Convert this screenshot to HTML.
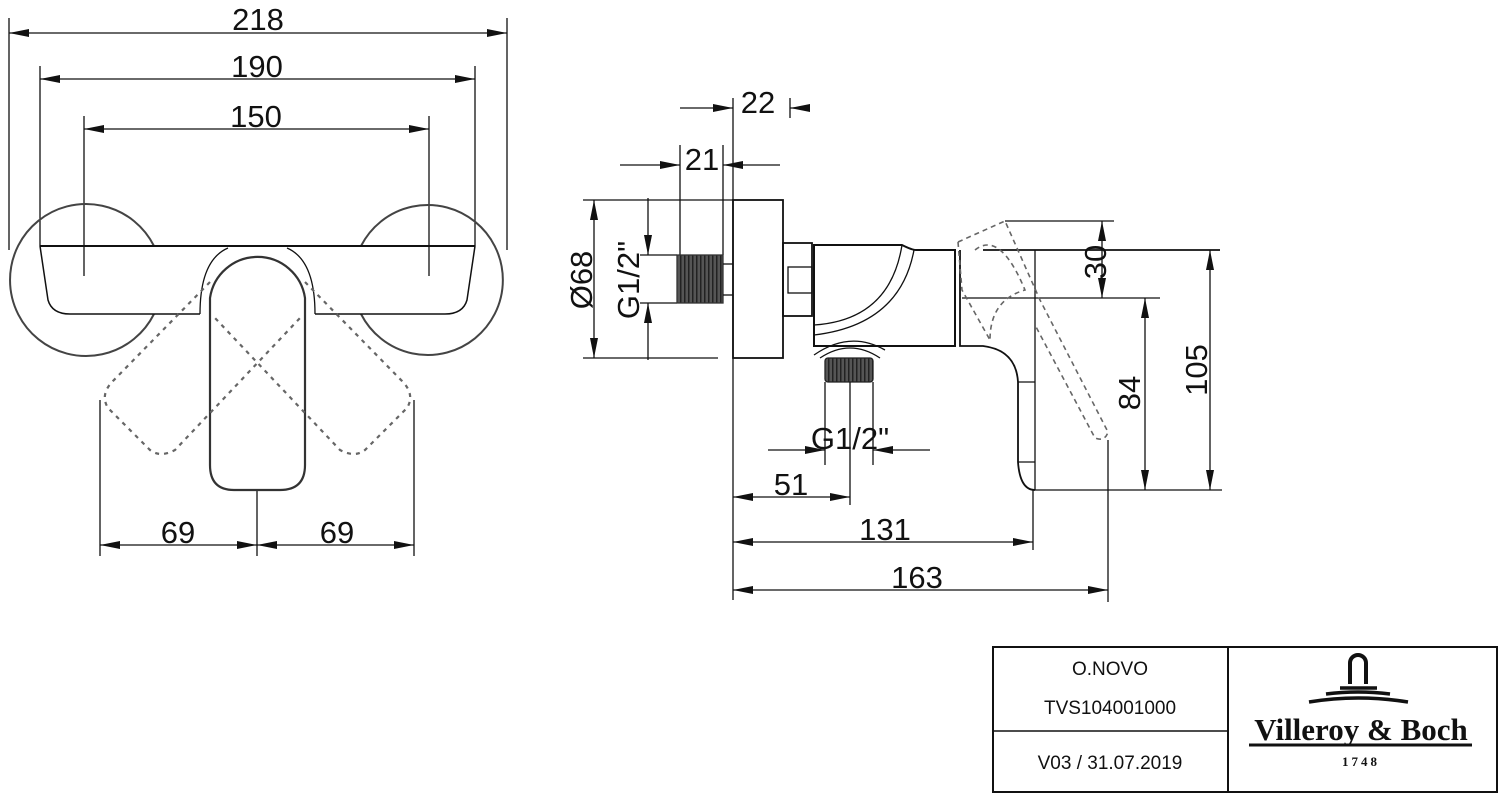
<!DOCTYPE html>
<html><head><meta charset="utf-8"><style>
body{margin:0;background:#fff}
svg{display:block}
.d{font-family:"Liberation Sans",sans-serif;font-size:31px;fill:#111}
.t{font-family:"Liberation Sans",sans-serif;font-size:19px;fill:#111}
</style></head><body>
<svg width="1500" height="799" viewBox="0 0 1500 799" xmlns="http://www.w3.org/2000/svg">
<defs>
<marker id="a" viewBox="0 0 20 8" refX="20" refY="4" markerWidth="20" markerHeight="8" orient="auto-start-reverse" markerUnits="userSpaceOnUse"><path d="M0,0 L20,4 L0,8 z" fill="#111"/></marker>
<pattern id="h" width="4" height="4" patternUnits="userSpaceOnUse"><rect width="4" height="4" fill="#555"/><rect width="1.5" height="4" fill="#222"/></pattern>
</defs>
<g stroke="#111" stroke-width="1.3" fill="none">
<line x1="9" y1="18" x2="9" y2="250"/><line x1="507" y1="18" x2="507" y2="250"/>
<line x1="9" y1="33" x2="507" y2="33" marker-start="url(#a)" marker-end="url(#a)"/>
<line x1="40" y1="66" x2="40" y2="246"/><line x1="475" y1="66" x2="475" y2="246"/>
<line x1="40" y1="79" x2="475" y2="79" marker-start="url(#a)" marker-end="url(#a)"/>
<line x1="84" y1="116" x2="84" y2="276"/><line x1="429" y1="116" x2="429" y2="276"/>
<line x1="84" y1="129" x2="429" y2="129" marker-start="url(#a)" marker-end="url(#a)"/>
<line x1="100" y1="400" x2="100" y2="556"/><line x1="257" y1="490" x2="257" y2="556"/><line x1="414" y1="400" x2="414" y2="556"/>
<line x1="100" y1="545" x2="257" y2="545" marker-start="url(#a)" marker-end="url(#a)"/>
<line x1="257" y1="545" x2="414" y2="545" marker-start="url(#a)" marker-end="url(#a)"/>
<path d="M154,246 A76,76 0 1 0 154,314" stroke="#444" stroke-width="2"/>
<path d="M361,246 A75,75 0 1 1 361,314" stroke="#444" stroke-width="2"/>
<line x1="40" y1="246" x2="475" y2="246" stroke-width="2"/>
<path d="M40,246 L48,300 Q52,314 70,314 L200,314" stroke-width="1.5"/>
<path d="M475,246 L467,300 Q463,314 445,314 L315,314" stroke-width="1.5"/>
<path d="M200,314 Q200,260 228,248" /><path d="M315,314 Q315,260 287,248"/>
<path d="M210,298 A48,48 0 0 1 305,298 L305,465 Q305,490 280,490 L234,490 Q210,490 210,465 Z" stroke="#333" stroke-width="2.2"/>
<g stroke="#666" stroke-width="2.2" stroke-dasharray="4,5">
<path d="M210,282 L112,382 Q100,395 108,408 L150,450 Q160,458 175,450 L300,318"/>
<path d="M305,282 L403,382 Q415,395 407,408 L365,450 Q355,458 340,450 L215,318"/>
</g>
<line x1="733" y1="98" x2="733" y2="600"/><line x1="790" y1="98" x2="790" y2="118"/>
<line x1="680" y1="108" x2="733" y2="108" marker-end="url(#a)"/>
<line x1="808" y1="108" x2="790" y2="108" marker-end="url(#a)"/>
<line x1="680" y1="145" x2="680" y2="255"/><line x1="723" y1="145" x2="723" y2="255"/>
<line x1="620" y1="165" x2="680" y2="165" marker-end="url(#a)"/>
<line x1="780" y1="165" x2="723" y2="165" marker-end="url(#a)"/>
<line x1="583" y1="200" x2="733" y2="200"/><line x1="583" y1="358" x2="718" y2="358"/>
<line x1="594" y1="200" x2="594" y2="358" marker-start="url(#a)" marker-end="url(#a)"/>
<line x1="640" y1="255" x2="677" y2="255"/><line x1="640" y1="303" x2="677" y2="303"/>
<line x1="648" y1="198" x2="648" y2="255" marker-end="url(#a)"/>
<line x1="648" y1="360" x2="648" y2="303" marker-end="url(#a)"/>
<rect x="677" y="255" width="46" height="48" fill="url(#h)" stroke="#333"/>
<line x1="723" y1="264" x2="733" y2="264"/><line x1="723" y1="295" x2="733" y2="295"/>
<rect x="733" y="200" width="50" height="158" stroke-width="1.8"/>
<rect x="783" y="243" width="29" height="73" stroke-width="1.8"/>
<rect x="788" y="267" width="24" height="26"/>
<path d="M814,245 L902,245 Q912,250 916,250 L955,250 L955,346 L814,346 Z" stroke-width="2"/>
<path d="M814,325 Q890,320 902,245"/><path d="M814,335 Q900,325 914,250"/>
<path d="M814,355 Q850,330 885,350" /><path d="M820,358 Q850,338 880,358"/>
<rect x="825" y="358" width="48" height="24" rx="3" fill="url(#h)" stroke="#222"/>
<line x1="825" y1="382" x2="825" y2="465"/><line x1="873" y1="382" x2="873" y2="465"/><line x1="850" y1="382" x2="850" y2="505"/>
<line x1="768" y1="450" x2="825" y2="450" marker-end="url(#a)"/>
<line x1="930" y1="450" x2="873" y2="450" marker-end="url(#a)"/>
<line x1="733" y1="497" x2="850" y2="497" marker-start="url(#a)" marker-end="url(#a)"/>
<line x1="1033" y1="490" x2="1033" y2="550"/>
<line x1="733" y1="542" x2="1033" y2="542" marker-start="url(#a)" marker-end="url(#a)"/>
<line x1="1108" y1="440" x2="1108" y2="602"/>
<line x1="733" y1="590" x2="1108" y2="590" marker-start="url(#a)" marker-end="url(#a)"/>
<path d="M960,250 L960,346 L983,346 Q1016,350 1018,382 L1018,462 Q1020,490 1035,490" stroke-width="1.8"/>
<line x1="983" y1="250" x2="1220" y2="250" stroke-width="1.8"/>
<line x1="1035" y1="250" x2="1035" y2="490"/>
<line x1="1018" y1="382" x2="1035" y2="382"/><line x1="1018" y1="462" x2="1035" y2="462"/>
<line x1="1035" y1="490" x2="1222" y2="490"/>
<line x1="962" y1="298" x2="1160" y2="298"/>
<g stroke="#666" stroke-width="1.6" stroke-dasharray="5,4">
<path d="M958,242 L1005,221 L1040,300 L1108,432 Q1105,442 1095,438 L1035,325"/>
<path d="M958,242 L962,290 L990,340 M975,250 Q1000,230 1025,290 Q990,300 990,340"/>
</g>
<line x1="1005" y1="221" x2="1114" y2="221"/>
<line x1="1102" y1="221" x2="1102" y2="298" marker-start="url(#a)" marker-end="url(#a)"/>
<line x1="1145" y1="298" x2="1145" y2="490" marker-start="url(#a)" marker-end="url(#a)"/>
<line x1="1210" y1="250" x2="1210" y2="490" marker-start="url(#a)" marker-end="url(#a)"/>
<rect x="993" y="647" width="504" height="145" stroke-width="2"/>
<line x1="1228" y1="647" x2="1228" y2="792" stroke-width="2"/>
<line x1="993" y1="731" x2="1228" y2="731" stroke-width="1.5"/>
</g>
<path d="M1350,684 L1350,663 A8,8 0 0 1 1366,663 L1366,684" stroke="#111" stroke-width="4" fill="none"/>
<path d="M1340,688 L1377,688 M1326,694 Q1358,690 1390,694 M1309,702 Q1358,694 1408,702" stroke="#111" stroke-width="3.5" fill="none"/>
<text x="1361" y="740" text-anchor="middle" font-family="Liberation Serif,serif" font-weight="bold" font-size="31" fill="#111">Villeroy &amp; Boch</text>
<line x1="1249" y1="745" x2="1472" y2="745" stroke="#111" stroke-width="3"/>
<text x="1361" y="766" text-anchor="middle" font-family="Liberation Serif,serif" font-weight="bold" font-size="13" letter-spacing="3" fill="#111">1748</text>
<text class="t" x="1110" y="675" text-anchor="middle">O.NOVO</text>
<text class="t" x="1110" y="714" text-anchor="middle">TVS104001000</text>
<text class="t" x="1110" y="769" text-anchor="middle">V03 / 31.07.2019</text>
<text class="d" x="258" y="30" text-anchor="middle">218</text>
<text class="d" x="257" y="77" text-anchor="middle">190</text>
<text class="d" x="256" y="127" text-anchor="middle">150</text>
<text class="d" x="178" y="543" text-anchor="middle">69</text>
<text class="d" x="337" y="543" text-anchor="middle">69</text>
<text class="d" x="758" y="113" text-anchor="middle">22</text>
<text class="d" x="702" y="170" text-anchor="middle">21</text>
<text class="d" x="850" y="449" text-anchor="middle">G1/2"</text>
<text class="d" x="791" y="495" text-anchor="middle">51</text>
<text class="d" x="885" y="540" text-anchor="middle">131</text>
<text class="d" x="917" y="588" text-anchor="middle">163</text>
<text class="d" transform="translate(594,280) rotate(-90)" text-anchor="middle" y="-2">Ø68</text>
<text class="d" transform="translate(639,280) rotate(-90)" text-anchor="middle">G1/2"</text>
<text class="d" transform="translate(1106,262) rotate(-90)" text-anchor="middle">30</text>
<text class="d" transform="translate(1140,393) rotate(-90)" text-anchor="middle">84</text>
<text class="d" transform="translate(1207,370) rotate(-90)" text-anchor="middle">105</text>
</svg>
</body></html>
